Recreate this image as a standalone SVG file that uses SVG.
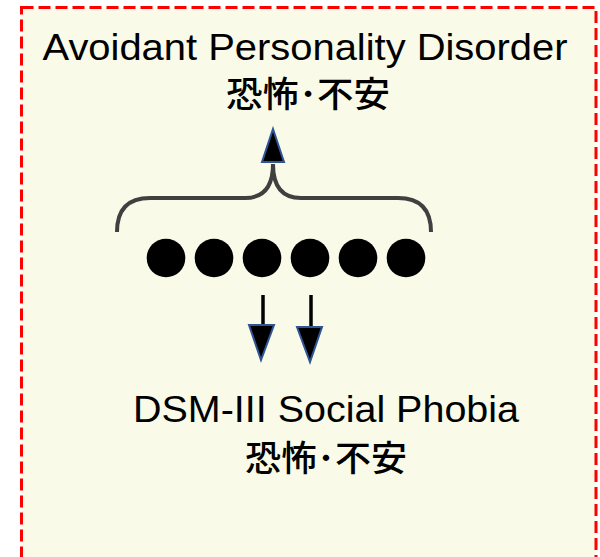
<svg xmlns="http://www.w3.org/2000/svg" width="600" height="557" viewBox="0 0 600 557">
<style>
.t{font-family:"Liberation Sans","Noto Sans CJK JP",sans-serif;fill:#000;text-anchor:middle}
.en{font-size:37px}
.jp{font-size:35px;font-weight:500;font-family:"Noto Sans CJK JP",sans-serif}
.dot{fill:#000}
.head{fill:#000;stroke:#2f5597;stroke-width:2;stroke-linejoin:miter}
</style>
<rect id="frame" x="21.5" y="7.5" width="574.5" height="551" fill="#f9fbe8" stroke="#ff0000" stroke-width="3" stroke-dasharray="12,5"/>
<g id="node-avpd">
<text class="t en" x="305" y="60" textLength="525" lengthAdjust="spacingAndGlyphs">Avoidant Personality Disorder</text>
<text class="t jp" x="308" y="107" textLength="164" lengthAdjust="spacingAndGlyphs">恐怖･不安</text>
</g>
<g id="node-dots">
<circle class="dot" cx="166" cy="258" r="19.3"/>
<circle class="dot" cx="214" cy="258" r="19.3"/>
<circle class="dot" cx="262" cy="258" r="19.3"/>
<circle class="dot" cx="310" cy="258" r="19.3"/>
<circle class="dot" cx="358" cy="258" r="19.3"/>
<circle class="dot" cx="406" cy="258" r="19.3"/>
</g>
<g id="node-sp">
<text class="t en" x="326" y="422" textLength="386" lengthAdjust="spacingAndGlyphs">DSM-III Social Phobia</text>
<text class="t jp" x="326" y="471" textLength="162" lengthAdjust="spacingAndGlyphs">恐怖･不安</text>
</g>
<g id="connectors">
<path d="M117,232 Q117,198 150,198 L245,198 Q273,198 273,164 Q273,198 301,198 L398,198 Q431,198 431,232" fill="none" stroke="#404040" stroke-width="4"/>
<polygon class="head" points="273,129 284,162 262,162"/>
<line x1="263" y1="295" x2="263" y2="330" stroke="#000" stroke-width="3.5"/>
<polygon class="head" points="249,325 274,325 261,360"/>
<line x1="311" y1="295" x2="311" y2="330" stroke="#000" stroke-width="3.5"/>
<polygon class="head" points="297,327 322,327 310,362"/>
</g>
</svg>
